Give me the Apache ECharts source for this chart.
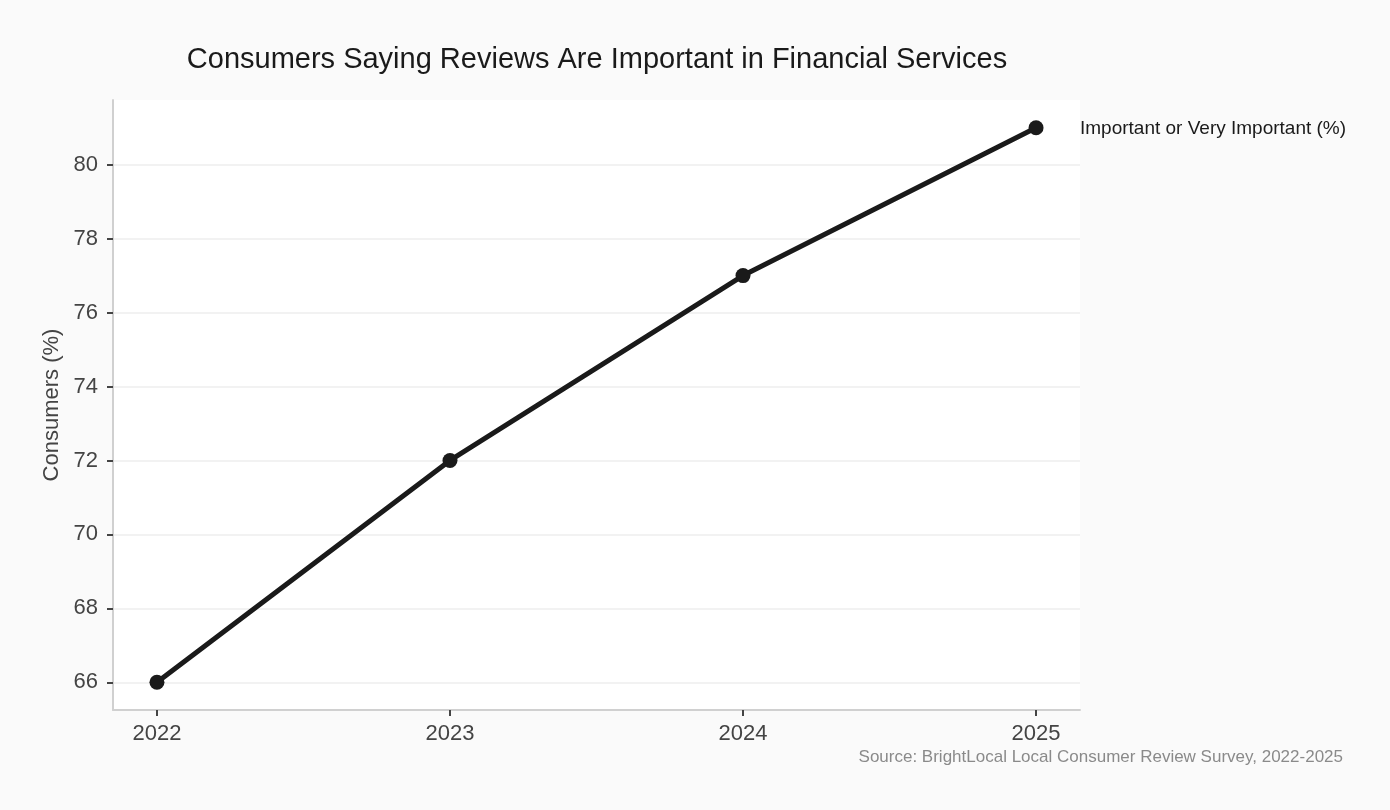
<!DOCTYPE html>
<html>
<head>
<meta charset="utf-8">
<script src="https://cdn.jsdelivr.net/npm/echarts@6/dist/echarts.min.js"></script>
<style>
html,body{margin:0;padding:0;background:#fafafa;}
#c{width:1390px;height:810px;}
</style>
</head>
<body>
<div id="c"></div>
<script>
var years = [2022, 2023, 2024, 2025];
var importantPct = [66, 72, 77, 81];
var yTicks = [66, 68, 70, 72, 74, 76, 78, 80];
var seriesName = 'Important or Very Important (%)';

var FONT = '"Liberation Sans", Arial, Helvetica, sans-serif';
var chart = echarts.init(document.getElementById('c'));
chart.setOption({
  backgroundColor: '#fafafa',
  textStyle: { fontFamily: FONT },
  animation: false,
  title: {
    text: 'Consumers Saying Reviews Are Important in Financial Services',
    left: 592, textAlign: 'center', top: 40,
    textStyle: { fontSize: 29, fontWeight: 'normal', color: '#1a1a1a', fontFamily: FONT }
  },
  legend: {
    data: [seriesName],
    left: 1070, top: 114,
    icon: 'none', itemWidth: 0,
    textStyle: { fontSize: 19, color: '#1a1a1a', fontFamily: FONT }
  },
  graphic: [{
    type: 'text', right: 47, top: 749,
    style: { text: 'Source: BrightLocal Local Consumer Review Survey, 2022-2025', fontSize: 17, fill: '#8a8a8a', fontFamily: FONT }
  }],
  grid: {
    left: 113, right: 310, top: 100, bottom: 100,
    show: true, backgroundColor: '#ffffff', borderWidth: 0
  },
  xAxis: {
    type: 'value', min: 2021.85, max: 2025.15,
    axisLine: { show: true, lineStyle: { color: '#d0d0d0', width: 2 } },
    axisTick: { show: true, customValues: years, length: 6, lineStyle: { color: '#444', width: 2 } },
    axisLabel: { customValues: years, fontSize: 22, color: '#444', margin: 13, fontFamily: FONT, formatter: function(v){ return String(v); } },
    splitLine: { show: false }
  },
  yAxis: {
    type: 'value', min: 65.25, max: 81.75,
    name: 'Consumers (%)', nameLocation: 'middle', nameGap: 48,
    nameTextStyle: { fontSize: 22, color: '#444', fontFamily: FONT },
    axisLine: { show: true, lineStyle: { color: '#d0d0d0', width: 2 } },
    axisTick: { show: true, customValues: yTicks, length: 6, lineStyle: { color: '#444', width: 2 } },
    axisLabel: { customValues: yTicks, fontSize: 22, color: '#444', margin: 15, fontFamily: FONT },
    splitLine: { show: true, lineStyle: { color: '#f2f2f2', width: 2 } }
  },
  series: [{
    name: seriesName,
    type: 'line',
    data: years.map(function(y, i){ return [y, importantPct[i]]; }),
    lineStyle: { color: '#1a1a1a', width: 5 },
    itemStyle: { color: '#1a1a1a' },
    symbol: 'circle', symbolSize: 15,
    showSymbol: true
  }]
});
</script>
</body>
</html>
